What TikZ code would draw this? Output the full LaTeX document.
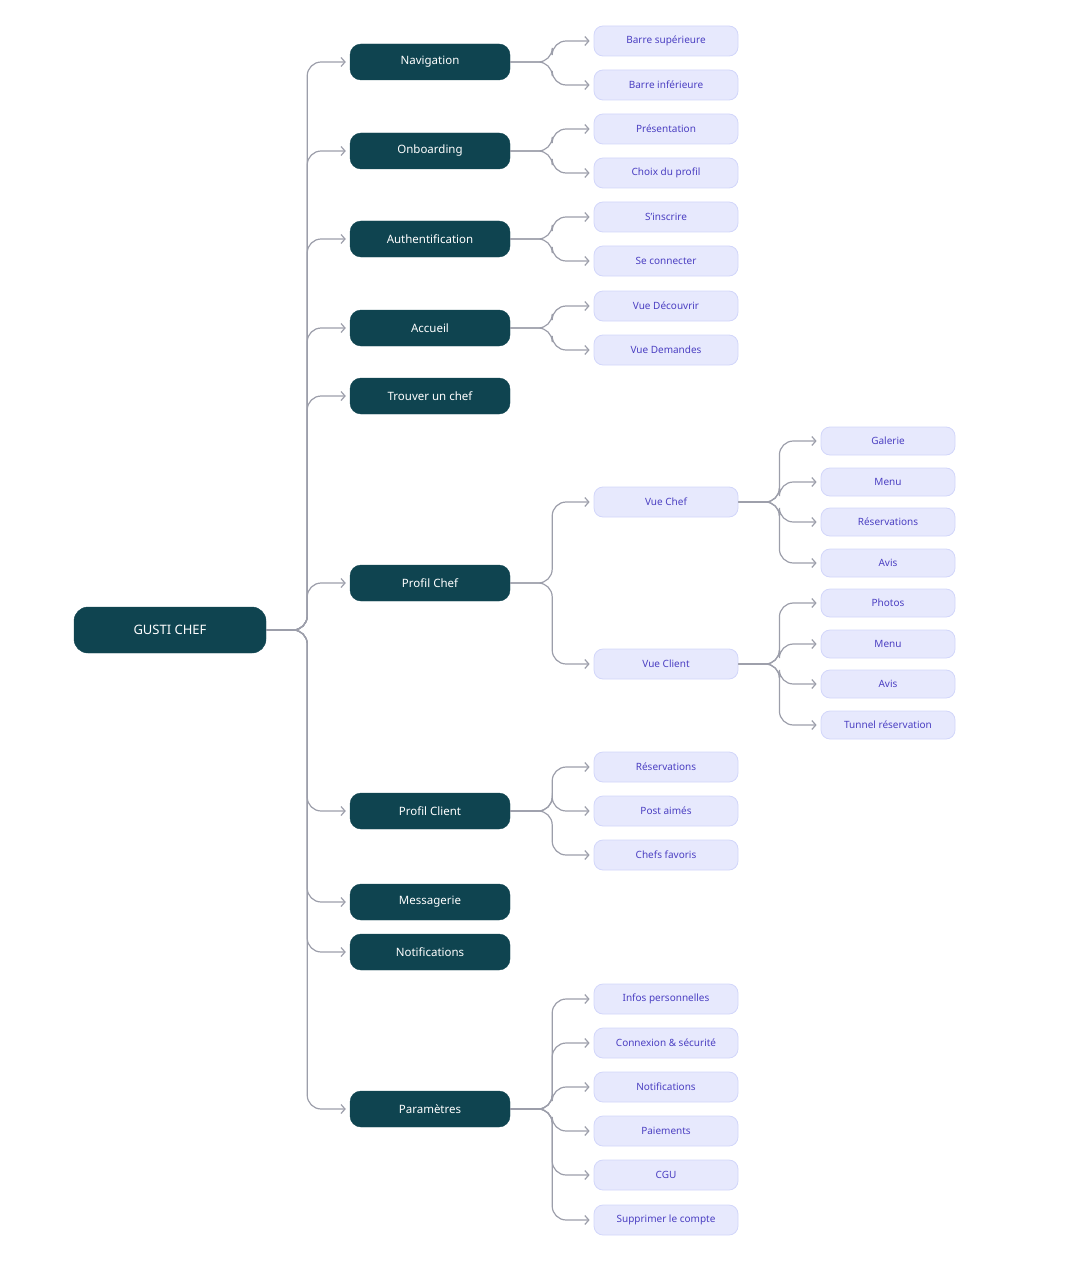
\documentclass[tikz,border=0pt]{standalone}
\usepackage{fontspec}
\setmainfont{Noto Sans}
\usetikzlibrary{arrows.meta}
\definecolor{GCTeal}{HTML}{0F4450}
\definecolor{GCLeaf}{HTML}{E7E9FD}
\definecolor{GCEdge}{HTML}{D2D6FA}
\definecolor{GCInk}{HTML}{4B3FC2}
\definecolor{GCLine}{HTML}{9C9EAA}
\tikzset{
  root/.style={draw=GCTeal,fill=GCTeal,text=white,rounded corners=14pt,
    minimum width=192pt,minimum height=46pt,font=\fontsize{13}{15}\selectfont\bfseries},
  sect/.style={draw=GCTeal,fill=GCTeal,text=white,rounded corners=11pt,
    minimum width=160pt,minimum height=36pt,font=\fontsize{11.5}{13}\selectfont\bfseries},
  leaf/.style={draw=GCEdge,fill=GCLeaf,text=GCInk,rounded corners=9pt,line width=0.8pt,
    minimum width=144pt,minimum height=30pt,font=\fontsize{10}{12}\selectfont},
  subleaf/.style={leaf,minimum width=134pt,minimum height=28pt},
  link/.style={draw=GCLine,line width=1.2pt,rounded corners=14pt,
    -{Straight Barb[length=4pt,width=9pt]},shorten >=4pt}
}
% branch from parent to child, bus at a fixed distance
\newcommand{\branch}[3]{\draw[link] (#1.east) -- ++(#3,0) |- (#2.west);}
\begin{document}
\begin{tikzpicture}[x=1pt,y=-1pt]
  \useasboundingbox (0,0) rectangle (1075,1281);
  \node[root] (gusti) at (170,630) {GUSTI CHEF};
  % sections
  \foreach \nm/\y/\txt in {nav/62/Navigation,onb/151/Onboarding,auth/239/Authentification,
      acc/328/Accueil,trouver/396/Trouver un chef,pchef/583/Profil Chef,
      pclient/811/Profil Client,msg/902/Messagerie,notif/952/Notifications,param/1109/Paramètres}{
    \node[sect] (\nm) at (430,\y) {\txt};
    \branch{gusti}{\nm}{41}
  }
  % leaves
  \foreach \src/\nm/\y/\txt in {nav/bsup/41/Barre supérieure,nav/binf/85/Barre inférieure,
      onb/pres/129/Présentation,onb/choix/173/Choix du profil,
      auth/insc/217/S’inscrire,auth/conn/261/Se connecter,
      acc/vdec/306/Vue Découvrir,acc/vdem/350/Vue Demandes,
      pchef/vchef/502/Vue Chef,pchef/vclient/664/Vue Client,
      pclient/resa/767/Réservations,pclient/post/811/Post aimés,pclient/fav/855/Chefs favoris,
      param/infos/999/Infos personnelles,param/secu/1043/Connexion \& sécurité,
      param/pnotif/1087/Notifications,param/paie/1131/Paiements,
      param/cgu/1175/CGU / RGPD,param/suppr/1220/Supprimer le compte}{
    \node[leaf] (\nm) at (666,\y) {\txt};
    \branch{\src}{\nm}{42}
  }
  % profile views
  \foreach \src/\nm/\y/\txt in {vchef/gal/441/Galerie,vchef/cmenu/482/Menu,
      vchef/cresa/522/Réservations,vchef/cavis/563/Avis,
      vclient/photo/603/Photos,vclient/kmenu/644/Menu,vclient/kavis/684/Avis,
      vclient/tunnel/725/Tunnel réservation}{
    \node[subleaf] (\nm) at (888,\y) {\txt};
    \branch{\src}{\nm}{41}
  }
\end{tikzpicture}
\end{document}
